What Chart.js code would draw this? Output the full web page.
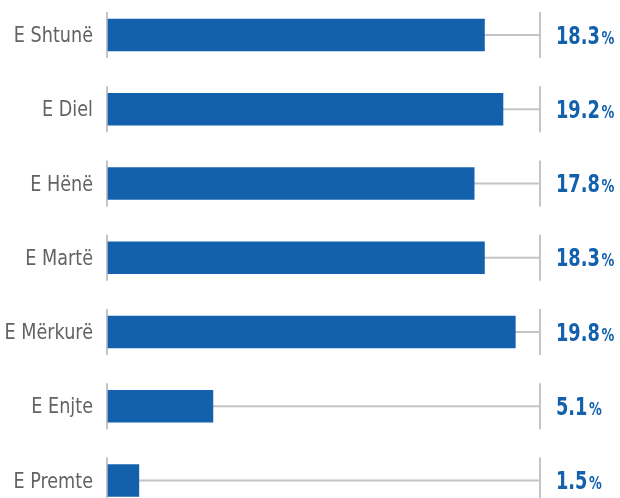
<!DOCTYPE html>
<html>
<head>
<meta charset="utf-8">
<script src="https://cdn.jsdelivr.net/npm/chart.js@4/dist/chart.umd.min.js"></script>
<style>
  html, body { margin: 0; padding: 0; background: #fff; }
  #wrap { width: 620px; height: 498px; position: relative; }
</style>
</head>
<body>
<div id="wrap"><canvas id="myChart"></canvas></div>
<script>
// ditet e javes
const days = ["E Shtunë", "E Diel", "E Hënë", "E Martë", "E Mërkurë", "E Enjte", "E Premte"];
// perqindjet
const shares = [18.3, 19.2, 17.8, 18.3, 19.8, 5.1, 1.5];
const axisMax = 21;

const blue = '#1360ad';
const grey = '#c4c4c6';
const narrow = '"DejaVu Sans Condensed", "DejaVu Sans", sans-serif';

// vijat gri, vizat vertikale dhe etiketat
const trackPlugin = {
    id: 'track',
    beforeDatasetsDraw(chart) {
        const c = chart.ctx;
        const x = chart.scales.x;
        const y = chart.scales.y;
        c.save();
        c.strokeStyle = grey;
        c.lineWidth = 2;
        days.forEach((d, i) => {
            const cy = y.getPixelForValue(i);
            c.beginPath();
            c.moveTo(x.getPixelForValue(0), cy);
            c.lineTo(x.getPixelForValue(axisMax), cy);
            c.stroke();
            c.beginPath();
            c.moveTo(x.left - 1, cy - 23);
            c.lineTo(x.left - 1, cy + 23);
            c.stroke();
            c.beginPath();
            c.moveTo(x.right, cy - 23);
            c.lineTo(x.right, cy + 23);
            c.stroke();
        });
        c.restore();
    },
    afterDatasetsDraw(chart) {
        const c = chart.ctx;
        const x = chart.scales.x;
        const y = chart.scales.y;
        // emrat e diteve (te ngushtuara)
        days.forEach((d, i) => {
            const cy = y.getPixelForValue(i);
            c.save();
            c.translate(x.left - 15, cy + 7);
            c.scale(0.89, 1);
            c.font = '22px ' + narrow;
            c.fillStyle = '#636363';
            c.textAlign = 'right';
            c.fillText(d, 0, 0);
            c.restore();
        });
        // vlerat
        shares.forEach((v, i) => {
            const cy = y.getPixelForValue(i);
            c.save();
            c.translate(x.right + 16, cy + 8.5);
            c.scale(0.79, 1);
            c.fillStyle = blue;
            c.textAlign = 'left';
            c.font = 'bold 25px ' + narrow;
            const s = v.toFixed(1);
            c.fillText(s, 0, 0);
            const w = c.measureText(s).width;
            c.font = 'bold 18px ' + narrow;
            c.fillText('%', w + 2, 0);
            c.restore();
        });
    }
};

let ctx = document.getElementById('myChart').getContext('2d');
let chart = new Chart(ctx, {
    type: 'bar',
    data: {
        labels: days,
        datasets: [{
            data: shares,
            backgroundColor: blue,
            borderWidth: 0,
            barThickness: 32,
            clip: false
        }]
    },
    options: {
        indexAxis: 'y',
        responsive: true,
        maintainAspectRatio: false,
        animation: false,
        layout: { padding: { top: 35, bottom: 17.5, right: 80, left: 0 } },
        plugins: {
            legend: { display: false },
            tooltip: { enabled: false }
        },
        scales: {
            x: {
                display: false,
                min: 0,
                max: axisMax
            },
            y: {
                offset: false,
                grid: { display: false, drawTicks: false },
                border: { display: false },
                afterFit(s) { s.width = 108; },
                ticks: { display: false }
            }
        }
    },
    plugins: [trackPlugin]
});
</script>
</body>
</html>
